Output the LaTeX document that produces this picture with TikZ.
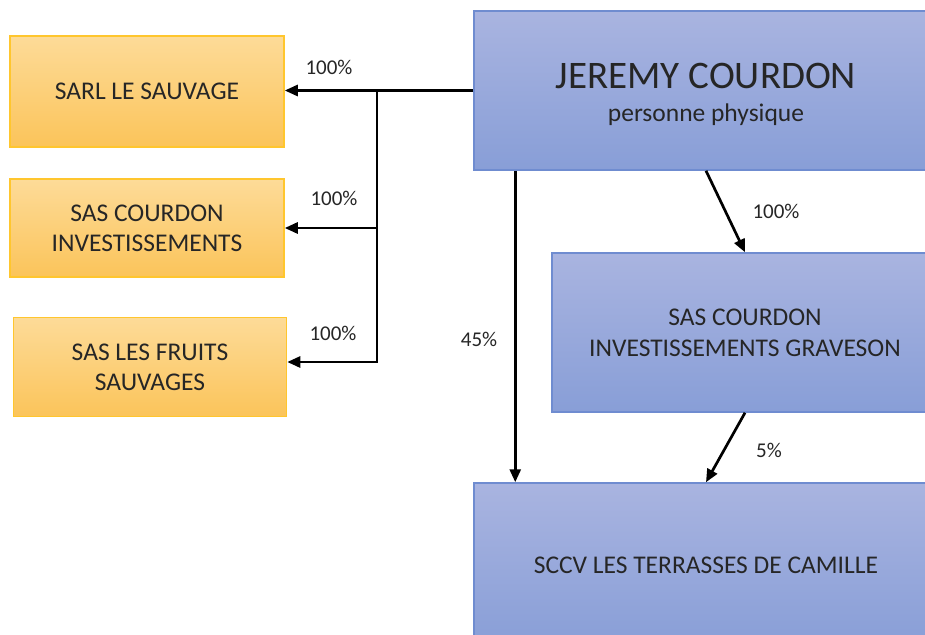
\documentclass[tikz,border=0pt]{standalone}
\usepackage{fontspec}
\setmainfont{Carlito}
\usetikzlibrary{arrows.meta}
\definecolor{orgtop}{HTML}{FDDB98}
\definecolor{orgbot}{HTML}{FBC45A}
\definecolor{orgline}{HTML}{FFC62E}
\definecolor{bluetop}{HTML}{A9B4E0}
\definecolor{bluebot}{HTML}{889ED7}
\definecolor{blueline}{HTML}{6F8CD0}
\definecolor{txt}{HTML}{262626}
\begin{document}
\begin{tikzpicture}[x=1pt,y=-1pt,
  orgbox/.style={draw=orgline, line width=1.5pt, top color=orgtop, bottom color=orgbot,
    inner sep=0pt, align=center, text=txt, font=\fontsize{25.5}{30}\selectfont},
  bluebox/.style={draw=blueline, line width=1.5pt, top color=bluetop, bottom color=bluebot,
    inner sep=0pt, align=center, text=txt, font=\fontsize{25.5}{31}\selectfont},
  arr/.style={line width=2.7pt, draw=black, -{Triangle[length=13pt,width=11pt]}},
  pct/.style={font=\fontsize{21}{21}\selectfont, text=txt, inner sep=0pt}]
\useasboundingbox (0,0) rectangle (925,634);
\clip (0,0) rectangle (925,634);
\fill[white] (0,0) rectangle (925,634);

\node[orgbox, minimum width=274pt, minimum height=111pt] (sarl) at (147,91.5) {SARL LE SAUVAGE};
\node[orgbox, minimum width=274pt, minimum height=98pt] (sci) at (147,228) {SAS COURDON\\INVESTISSEMENTS};
\node[orgbox, minimum width=273pt, minimum height=99pt] (fruits) at (150,367) {SAS LES FRUITS\\SAUVAGES};

\node[bluebox, minimum width=464pt, minimum height=159pt, font=\fontsize{25.5}{33}\selectfont] (jer) at (706,90.5)
  {\rule{0pt}{34pt}{\fontsize{39}{39}\selectfont JEREMY COURDON}\\personne physique};
\node[bluebox, minimum width=386pt, minimum height=159pt] (grav) at (745,332.5)
  {SAS COURDON\\INVESTISSEMENTS GRAVESON};
\node[bluebox, minimum width=464pt, minimum height=164pt] (sccv) at (706,565)
  {SCCV LES TERRASSES DE CAMILLE};

\coordinate (br) at (377,90.5);
\draw[arr] (jer.west) -- (sarl.east |- jer.west);
\draw[arr] (br |- sci.east) -- (sci.east);
\draw[arr] (br) |- ([yshift=5pt]fruits.east);
\draw[arr] ([xshift=42pt]jer.south west) -- ([xshift=42pt]sccv.north west);
\draw[arr] (jer.south) -- (grav.north);
\draw[arr] (grav.south) -- (sccv.north);

\node[pct] (p1) at (329,67.5) {100\%};
\node[pct] (p2) at (334,198) {100\%};
\node[pct] (p3) at (333,333) {100\%};
\node[pct] (p4) at (479,339) {45\%};
\node[pct] (p5) at (776,211) {100\%};
\node[pct] (p6) at (769,450) {5\%};
\end{tikzpicture}
\end{document}
